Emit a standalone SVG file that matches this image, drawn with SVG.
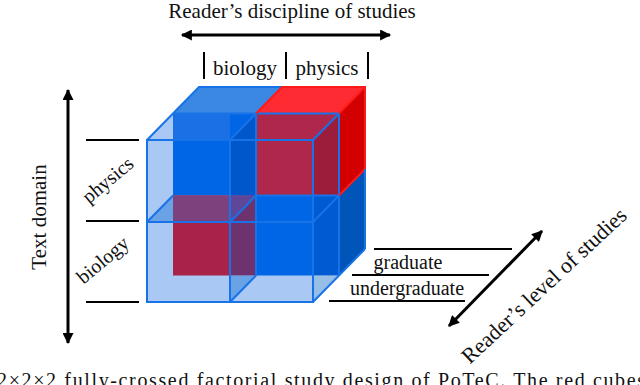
<svg xmlns="http://www.w3.org/2000/svg" width="640" height="385" viewBox="0 0 640 385">
<defs>
<style>
text{font-family:"Liberation Serif","Times New Roman",serif;fill:#111}
.lbl{font-size:21px}
.sm{font-size:20px}
.ax{stroke:#000;stroke-width:3;fill:none}
.tick{stroke:#000;stroke-width:2}
.edge{stroke:#1872e8;stroke-width:2;fill:none}
.redge{stroke:#ff1a1a;stroke-width:2;fill:none}
</style>
<marker id="ah" viewBox="0 0 10 10" refX="9" refY="5" markerUnits="userSpaceOnUse" markerWidth="13" markerHeight="11" orient="auto-start-reverse">
<path d="M0,0 L10,5 L0,10 z" fill="#000"/>
</marker>
</defs>
<rect width="640" height="385" fill="#fff"/>

<g id="title-discipline">
<text class="lbl" x="292" y="18" text-anchor="middle">Reader’s discipline of studies</text>
<line class="ax" x1="182" y1="35" x2="390" y2="35" marker-start="url(#ah)" marker-end="url(#ah)"/>
<line class="tick" x1="204" y1="52" x2="204" y2="79"/>
<line class="tick" x1="286" y1="52" x2="286" y2="79"/>
<line class="tick" x1="368" y1="52" x2="368" y2="79"/>
<text class="lbl" x="245" y="75" text-anchor="middle">biology</text>
<text class="lbl" x="327" y="75" text-anchor="middle">physics</text>
</g>

<g id="title-domain">
<line class="ax" x1="68" y1="90" x2="68" y2="343" marker-start="url(#ah)" marker-end="url(#ah)"/>
<text class="lbl" transform="translate(46,217) rotate(-90)" text-anchor="middle">Text domain</text>
<line class="tick" x1="86" y1="140" x2="139" y2="140"/>
<line class="tick" x1="86" y1="221" x2="139" y2="221"/>
<line class="tick" x1="86" y1="302" x2="139" y2="302"/>
<text class="sm" transform="translate(112,185) rotate(-40)" text-anchor="middle">physics</text>
<text class="sm" transform="translate(107,265) rotate(-40)" text-anchor="middle">biology</text>
</g>

<g id="title-level">
<line class="tick" x1="374" y1="249" x2="512" y2="249"/>
<line class="tick" x1="352" y1="275" x2="489" y2="275"/>
<line class="tick" x1="329" y1="301" x2="465" y2="301"/>
<text class="sm" x="408" y="269" text-anchor="middle">graduate</text>
<text class="sm" x="407" y="295" text-anchor="middle">undergraduate</text>
<line class="ax" x1="449" y1="326" x2="542" y2="231" marker-start="url(#ah)" marker-end="url(#ah)"/>
<text transform="translate(549,291) rotate(-43)" text-anchor="middle" font-size="22">Reader’s level of studies</text>
</g>

<g id="cube">
<polygon points="147,140 173,113.5 339,113.5 339,275.5 313,302 147,302" fill="#aac8f4"/>
<polygon points="173,113.5 199,87 282,87 256,113.5" fill="#3a88e2"/>
<polygon points="256,113.5 282,87 365,87 339,113.5" fill="#ff2b33"/>
<polygon points="339,113.5 365,87 365,169 339,195.5" fill="#d20000"/>
<polygon points="339,195.5 365,169 365,249 339,275.5" fill="#0056b8"/>
<rect x="173" y="113.5" width="83" height="82" fill="#0066e6"/>
<polygon points="173,113.5 230,113.5 230,140 147,140" fill="#1a70e4"/>
<rect x="256" y="113.5" width="83" height="82" fill="#af284b"/>
<rect x="173" y="195.5" width="83" height="80" fill="#a82249"/>
<rect x="256" y="195.5" width="83" height="80" fill="#0066e6"/>
<polygon points="147,140 173,113.5 173,140" fill="#aac8f4"/>
<polygon points="230,140 256,113.5 256,195.5 230,195.5" fill="#0057cc"/>
<polygon points="313,140 339,113.5 339,195.5 313,195.5" fill="#9c1c3c"/>
<polygon points="147,222 173,195.5 230,195.5 230,222" fill="#7d417d"/>
<polygon points="147,222 173,195.5 173,222" fill="#6aa2e6"/>
<polygon points="230,222 256,195.5 256,275.5 230,275.5" fill="#6e326e"/>
<polygon points="230,195.5 256,195.5 230,222" fill="#5f4696"/>
<polygon points="230,275.5 256,275.5 230,302" fill="#6aa2e6"/>
<rect x="313" y="195.5" width="26" height="80" fill="#005ad2"/>
<polygon points="313,275.5 339,275.5 313,302" fill="#96bee6"/>
<line class="edge" x1="173" y1="113.5" x2="339" y2="113.5"/>
<line class="edge" x1="256" y1="113.5" x2="256" y2="275.5"/>
<line class="edge" x1="339" y1="113.5" x2="339" y2="275.5"/>
<line class="edge" x1="256" y1="195.5" x2="339" y2="195.5"/>
<polyline class="edge" points="173,113.5 199,87 282,87"/>
<line class="redge" x1="256" y1="113.5" x2="282" y2="87"/>
<polyline class="redge" points="282,87 365,87 365,169"/>
<line class="redge" x1="339" y1="113.5" x2="365" y2="87"/>
<line class="redge" x1="339" y1="195.5" x2="365" y2="169"/>
<line class="edge" x1="365" y1="169" x2="365" y2="249"/>
<rect class="edge" x="147" y="140" width="166" height="162"/>
<line class="edge" x1="230" y1="140" x2="230" y2="302"/>
<line class="edge" x1="147" y1="222" x2="313" y2="222"/>
<line class="edge" x1="147" y1="140" x2="173" y2="113.5"/>
<line class="edge" x1="230" y1="140" x2="256" y2="113.5"/>
<line class="edge" x1="313" y1="140" x2="339" y2="113.5"/>
<line class="edge" x1="147" y1="222" x2="173" y2="195.5"/>
<line class="edge" x1="230" y1="222" x2="256" y2="195.5"/>
<line class="edge" x1="313" y1="222" x2="339" y2="195.5"/>
<line class="edge" x1="230" y1="302" x2="256" y2="275.5"/>
<line class="edge" x1="313" y1="302" x2="365" y2="249"/>
</g>

<g id="caption">
<text x="-3" y="387" font-size="20" textLength="648" lengthAdjust="spacing">2×2×2 fully-crossed factorial study design of PoTeC. The red cubes</text>
</g>
</svg>
